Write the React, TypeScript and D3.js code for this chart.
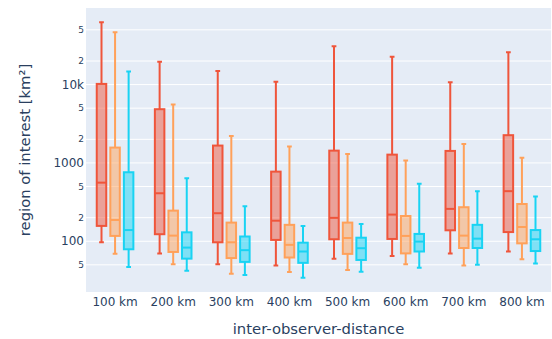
import React from "react";
import * as d3 from "d3";

// categories (inter-observer distance)
const categories = ["100 km", "200 km", "300 km", "400 km", "500 km", "600 km", "700 km", "800 km"];

// box stats per category: [lower whisker, q1, median, q3, upper whisker]
const seriesRed = [
  [97, 157, 560, 10200, 62700],
  [70, 123, 410, 4850, 19500],
  [51, 97, 228, 1665, 14960],
  [49, 104, 183, 774, 10900],
  [60, 106, 199, 1435, 30900],
  [65, 107, 219, 1276, 22600],
  [70, 138, 259, 1423, 10730],
  [74, 131, 436, 2260, 25900],
];
const seriesOrange = [
  [69.5, 117, 187, 1570, 46700],
  [51, 73, 118, 246, 5560],
  [38.5, 61, 97, 173, 2210],
  [40.6, 62, 90, 162, 1615],
  [43, 69, 110, 173, 1303],
  [51, 70, 117, 210, 1070],
  [49, 82, 118, 272, 1750],
  [59, 94, 152, 299, 1160],
];
const seriesCyan = [
  [47, 79, 139, 760, 14650],
  [42, 60, 83, 130, 638],
  [37, 54.5, 77, 115, 280],
  [34.3, 53, 74, 96, 157],
  [40.9, 57.7, 81.5, 111, 166],
  [46, 74, 99, 124, 544],
  [50, 82, 108, 162, 436],
  [52, 75, 106, 139, 372],
];

const seriesColors = ["#EF553B", "#FFA15A", "#19D3F3"];

const yTicks = [50, 100, 200, 500, 1000, 2000, 5000, 10000, 20000, 50000];
const yTickLabels = ["5", "100", "2", "5", "1000", "2", "5", "10k", "2", "5"];
const yMajor = [100, 1000, 10000];

const W = 552;
const H = 339;
const margin = { left: 86, right: 1, top: 8, bottom: 47 };

export default function App() {
  const series = [seriesRed, seriesOrange, seriesCyan];
  const x = d3
    .scaleBand<string>()
    .domain(categories)
    .range([margin.left, W - margin.right])
    .paddingInner(0.3)
    .paddingOuter(0.15);
  const inner = d3
    .scaleBand<number>()
    .domain([0, 1, 2])
    .range([0, x.bandwidth()]);
  const y = d3
    .scaleLog()
    .domain([22.5, 95000])
    .range([H - margin.bottom, margin.top]);

  const font = "'DejaVu Sans', Verdana, sans-serif";
  const textColor = "#2a3f5f";
  const boxW = inner.bandwidth() * 0.7;
  const capW = boxW * 0.5;

  return (
    <div style={{ position: "absolute", left: 0, top: 0 }}>
      <svg width={W} height={H} style={{ display: "block", background: "#fff" }}>
        <rect
          x={margin.left}
          y={margin.top}
          width={W - margin.left - margin.right}
          height={H - margin.top - margin.bottom}
          fill="#E5ECF6"
        />
        {yTicks.map((t) => (
          <line
            key={"g" + t}
            x1={margin.left}
            x2={W - margin.right}
            y1={y(t)}
            y2={y(t)}
            stroke="#fff"
            strokeWidth={1}
          />
        ))}
        {yTicks.map((t, i) => {
          const major = yMajor.includes(t);
          return (
            <text
              key={"t" + t}
              x={margin.left - 2}
              y={y(t)}
              dy="0.35em"
              textAnchor="end"
              fontFamily={font}
              fontSize={major ? 12 : 9}
              fill={textColor}
            >
              {yTickLabels[i]}
            </text>
          );
        })}
        {categories.map((c) => (
          <text
            key={"x" + c}
            x={(x(c) as number) + x.bandwidth() / 2}
            y={H - margin.bottom + 14}
            textAnchor="middle"
            fontFamily={font}
            fontSize={12}
            fill={textColor}
          >
            {c}
          </text>
        ))}
        {series.map((s, si) =>
          s.map((d, ci) => {
            const cx = (x(categories[ci]) as number) + (inner(si) as number) + inner.bandwidth() / 2;
            const [lo, q1, med, q3, hi] = d;
            const col = seriesColors[si];
            return (
              <g key={si + "-" + ci}>
                <path
                  d={`M${cx},${y(q3)}V${y(hi)}M${cx - capW / 2},${y(hi)}H${cx + capW / 2}` +
                    `M${cx},${y(q1)}V${y(lo)}M${cx - capW / 2},${y(lo)}H${cx + capW / 2}`}
                  stroke={col}
                  strokeWidth={2}
                  fill="none"
                />
                <rect
                  x={cx - boxW / 2}
                  y={y(q3)}
                  width={boxW}
                  height={y(q1) - y(q3)}
                  fill={col}
                  fillOpacity={0.5}
                  stroke={col}
                  strokeWidth={2}
                />
                <line
                  x1={cx - boxW / 2}
                  x2={cx + boxW / 2}
                  y1={y(med)}
                  y2={y(med)}
                  stroke={col}
                  strokeWidth={2}
                />
              </g>
            );
          })
        )}
        <text
          x={(margin.left + W - margin.right) / 2}
          y={H - 5}
          textAnchor="middle"
          fontFamily={font}
          fontSize={14.8}
          fill={textColor}
        >
          inter-observer-distance
        </text>
        <text
          transform={`translate(30,${(margin.top + H - margin.bottom) / 2}) rotate(-90)`}
          textAnchor="middle"
          fontFamily={font}
          fontSize={14.8}
          fill={textColor}
        >
          region of interest [km²]
        </text>
      </svg>
    </div>
  );
}
